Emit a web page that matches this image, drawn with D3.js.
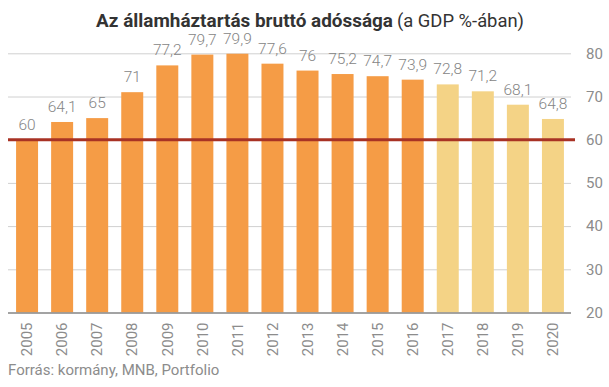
<!DOCTYPE html>
<html>
<head>
    <meta charset="utf-8">
    <title>Az államháztartás bruttó adóssága</title>
    <script src="https://d3js.org/d3.v7.min.js"></script>
    <style>
        body { margin: 0; background: #fff; }
        text { font-family: Roboto, "Noto Sans", sans-serif; }
    </style>
</head>
<body>
    <svg width="609" height="387"></svg>
    <script>
        // Data
        var years = ["2005", "2006", "2007", "2008", "2009", "2010", "2011", "2012",
                     "2013", "2014", "2015", "2016", "2017", "2018", "2019", "2020"];
        var debt = [60, 64.1, 65, 71, 77.2, 79.7, 79.9, 77.6, 76, 75.2, 74.7, 73.9, 72.8, 71.2, 68.1, 64.8];
        var forecastFrom = "2017";
        var yTicks = [20, 30, 40, 50, 60, 70, 80];
        var limit = 60;

        var svg = d3.select("svg");

        // Scales
        var xScale = d3.scaleBand()
            .domain(years)
            .range([3, 577])
            .padding(0.373);

        var yScale = d3.scaleLinear()
            .domain([20, 80])
            .range([312.5, 53.3]);

        var fmt = function(v) { return String(v).replace(".", ","); };

        // Gridlines + right axis labels
        var yAxis = d3.axisRight(yScale)
            .tickValues(yTicks)
            .tickSize(563)
            .tickFormat(d3.format("d"));

        var gy = svg.append("g")
            .attr("transform", "translate(8,0)")
            .call(yAxis);
        gy.select(".domain").remove();
        gy.selectAll(".tick line").attr("stroke", "#d0d0d0");
        gy.selectAll(".tick text")
            .attr("x", 578)
            .attr("fill", "#8c8c8c")
            .attr("font-size", 15)
            .attr("font-family", "Roboto");

        // Bars
        svg.selectAll("rect.bar")
            .data(debt)
            .enter()
            .append("rect")
            .attr("class", "bar")
            .attr("x", function(d, i) { return xScale(years[i]); })
            .attr("y", function(d) { return yScale(d); })
            .attr("width", xScale.bandwidth())
            .attr("height", function(d) { return yScale(20) - yScale(d); })
            .attr("fill", function(d, i) { return +years[i] >= +forecastFrom ? "#f4d386" : "#f59c46"; });

        // Value labels
        svg.selectAll("text.val")
            .data(debt)
            .enter()
            .append("text")
            .attr("class", "val")
            .attr("x", function(d, i) { return xScale(years[i]) + xScale.bandwidth() / 2; })
            .attr("y", function(d) { return yScale(d) - 10; })
            .attr("text-anchor", "middle")
            .attr("font-size", 15.5)
            .attr("font-weight", 300)
            .attr("fill", "#858585")
            .text(fmt);

        // Bottom axis
        var xAxis = d3.axisBottom(xScale).tickSize(0).tickPadding(0);
        var gx = svg.append("g")
            .attr("transform", "translate(0," + yScale(20) + ")")
            .call(xAxis);
        gx.select(".domain")
            .attr("d", "M8,0.5H571")
            .attr("stroke", "#8c8c8c")
            .attr("stroke-width", 1.5);
        gx.selectAll(".tick text")
            .attr("transform", "rotate(-90)")
            .attr("x", -10)
            .attr("y", 0)
            .attr("dy", "0.35em")
            .attr("text-anchor", "end")
            .attr("fill", "#8c8c8c")
            .attr("font-size", 15)
            .attr("font-family", "Roboto");

        // 60% limit line
        svg.append("line")
            .attr("x1", 8)
            .attr("x2", 575)
            .attr("y1", yScale(limit))
            .attr("y2", yScale(limit))
            .attr("stroke", "#a83224")
            .attr("stroke-width", 3);

        // Title
        var title = svg.append("text")
            .attr("x", 96)
            .attr("y", 27)
            .attr("font-size", 19)
            .attr("fill", "#333");
        var t1 = title.append("tspan")
            .attr("font-weight", 700)
            .text("Az államháztartás bruttó adóssága");
        var t2 = title.append("tspan")
            .attr("font-weight", 400)
            .attr("dx", 4)
            .text("(a GDP %-ában)");
        t1.attr("textLength", 297).attr("lengthAdjust", "spacingAndGlyphs");
        t2.attr("textLength", 127).attr("lengthAdjust", "spacingAndGlyphs");

        // Source
        svg.append("text")
            .attr("x", 8)
            .attr("y", 375)
            .attr("font-size", 15)
            .attr("fill", "#8c8c8c")
            .text("Forrás: kormány, MNB, Portfolio");
    </script>
</body>
</html>
